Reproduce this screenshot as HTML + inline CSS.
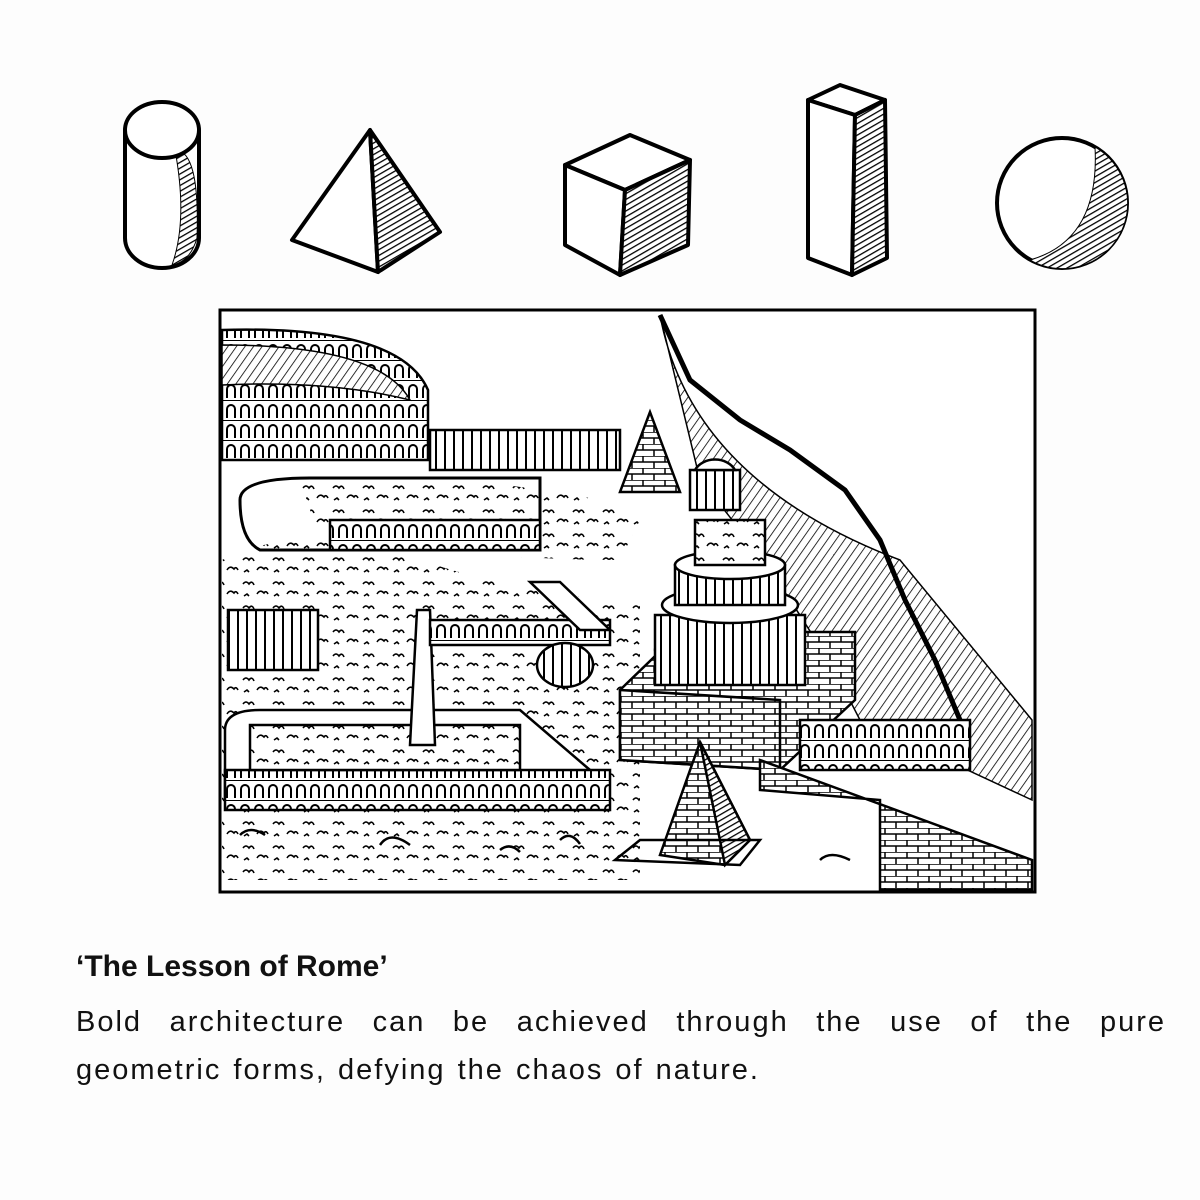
<!DOCTYPE html>
<html><head><meta charset="utf-8">
<style>
html,body{margin:0;padding:0;background:#fff;}
#wrap{position:relative;width:1200px;height:1200px;overflow:hidden;background:#fdfdfd;}
svg{position:absolute;left:0;top:0;}
.t{position:absolute;left:76px;font-family:"Liberation Sans",sans-serif;color:#111;}
#title{top:950px;font-size:30px;font-weight:bold;}
#body{top:998px;width:1090px;font-size:29px;line-height:48px;text-align:justify;text-align-last:left;letter-spacing:2px;word-spacing:2px;}
</style></head>
<body>
<div id="wrap">
<svg width="1200" height="1200" viewBox="0 0 1200 1200">
<defs>
<pattern id="h" width="5" height="5" patternUnits="userSpaceOnUse" patternTransform="rotate(60)"><rect width="5" height="5" fill="#fff"/><line x1="0" y1="0" x2="0" y2="5" stroke="#000" stroke-width="2.6"/></pattern>
<pattern id="h2" width="7" height="7" patternUnits="userSpaceOnUse" patternTransform="rotate(35)"><rect width="7" height="7" fill="#fff"/><line x1="0" y1="0" x2="0" y2="7" stroke="#000" stroke-width="1.6"/></pattern>
<pattern id="br" width="22" height="12" patternUnits="userSpaceOnUse"><rect width="22" height="12" fill="#fff"/><path d="M0 0H22M0 6H22M5 0V6M16 6V12" stroke="#000" stroke-width="1.5" fill="none"/></pattern>
<pattern id="arc" width="14" height="20" patternUnits="userSpaceOnUse"><rect width="14" height="20" fill="#fff"/><path d="M3 18V9a4 4 0 0 1 8 0V18" stroke="#000" stroke-width="2" fill="none"/><line x1="0" y1="0" x2="14" y2="0" stroke="#000" stroke-width="2"/></pattern>
<pattern id="col" width="9" height="10" patternUnits="userSpaceOnUse"><rect width="9" height="10" fill="#fff"/><line x1="4" y1="0" x2="4" y2="10" stroke="#000" stroke-width="2"/></pattern>
<pattern id="bush" width="30" height="24" patternUnits="userSpaceOnUse"><rect width="30" height="24" fill="#fff"/><path d="M3 8q3-4 6 0q3-4 5 1M17 18q3-5 7-1q2-3 4 1M4 20l3-2 2 2" stroke="#000" stroke-width="1.6" fill="none"/></pattern>
</defs>
<g stroke="#000" stroke-width="4" stroke-linejoin="round" fill="#fff">
 <g>
  <path d="M125 130V238A37 30 0 0 0 199 238V130" fill="#fff"/>
  <path d="M175 150Q200 150 197 238Q190 262 172 265Q188 220 175 150Z" fill="url(#h)" stroke-width="1"/>
  <ellipse cx="162" cy="130" rx="37" ry="28"/>
 </g>
 <g>
  <polygon points="370,130 292,240 378,272"/>
  <polygon points="370,130 378,272 440,232" fill="url(#h)"/>
 </g>
 <g>
  <polygon points="565,165 630,135 690,160 625,190"/>
  <polygon points="565,165 625,190 620,275 565,245"/>
  <polygon points="625,190 690,160 688,245 620,275" fill="url(#h)"/>
 </g>
 <g>
  <polygon points="808,100 840,85 885,100 855,115"/>
  <polygon points="808,100 855,115 852,275 808,258"/>
  <polygon points="855,115 885,100 887,258 852,275" fill="url(#h)"/>
 </g>
 <g>
  <circle cx="1062" cy="203" r="65"/>
  <path d="M1095 147A65 65 0 0 1 1030 260Q1100 240 1095 147Z" fill="url(#h)" stroke-width="1"/>
 </g>
</g>
<g stroke="#000" stroke-width="2.5" fill="#fff">
 <rect x="220" y="310" width="815" height="582" fill="#fff" stroke-width="3"/>
 <path d="M222 560Q300 520 420 560T640 600L640 880H222Z" fill="url(#bush)" stroke="none"/>
 <path d="M300 480Q450 470 600 500L640 520L620 560Q500 560 320 540Z" fill="url(#bush)" stroke="none"/>
 <path d="M660 315Q690 480 900 560L1032 720L1032 800L860 720Q800 600 700 480Z" fill="url(#h2)" stroke-width="1.5"/>
 <path d="M660 315L690 380L740 420L790 450L845 490L880 540L905 600L935 660L960 720" fill="none" stroke-width="5"/>
 <g>
  <path d="M222 330Q400 325 428 390V460H222Z" fill="url(#arc)"/>
  <path d="M222 345Q380 345 410 400Q330 380 222 385Z" fill="url(#h2)" stroke-width="1.5"/>
 </g>
 <rect x="430" y="430" width="190" height="40" fill="url(#col)"/>
 <path d="M240 500Q240 478 310 478H540V550H260Q240 540 240 500Z" fill="none" stroke-width="3"/>
 <rect x="330" y="520" width="210" height="30" fill="url(#arc)"/>
 <polygon points="650,412 620,492 680,492" fill="url(#br)"/>
 <rect x="690" y="470" width="50" height="40" fill="url(#col)"/>
 <path d="M695 470A22 18 0 0 1 735 470Z"/>
 <g>
  <polygon points="620,690 680,632 855,632 855,700 780,770 620,760" fill="url(#br)"/>
  <polygon points="620,690 780,700 780,770 620,760" fill="url(#br)"/>
  <ellipse cx="730" cy="650" rx="75" ry="22"/>
  <rect x="655" y="615" width="150" height="70" fill="url(#col)"/>
  <ellipse cx="730" cy="605" rx="68" ry="18"/>
  <rect x="675" y="565" width="110" height="40" fill="url(#col)"/>
  <ellipse cx="730" cy="565" rx="55" ry="14"/>
  <rect x="695" y="520" width="70" height="45" fill="url(#bush)"/>
 </g>
 <g>
  <path d="M225 730Q225 710 260 710H520L590 770V800H225Z" fill="#fff"/>
  <rect x="225" y="770" width="385" height="40" fill="url(#arc)"/>
  <rect x="250" y="725" width="270" height="45" fill="url(#bush)"/>
 </g>
 <polygon points="417,610 430,610 435,745 410,745" fill="#fff"/>
 <rect x="228" y="610" width="90" height="60" fill="url(#col)"/>
 <rect x="430" y="620" width="180" height="25" fill="url(#arc)"/>
 <path d="M530 582H560L610 630H580Z"/>
 <ellipse cx="565" cy="665" rx="28" ry="22" fill="url(#col)"/>
 <rect x="800" y="720" width="170" height="50" fill="url(#arc)"/>
 <path d="M760 760L1032 860V890H880V800L760 790Z" fill="url(#br)"/>
 <polygon points="700,742 660,855 725,865 750,840" fill="url(#br)"/>
 <polygon points="700,742 725,865 750,840" fill="url(#h)"/>
 <path d="M615 860L640 840H760L740 865Z" fill="none"/>
 <path d="M240 835q10-10 25 0M380 845q10-15 30 0M500 850q10-8 20 2M560 840q10-10 20 4M820 860q10-10 30 0" fill="none"/>
</g>
</svg>
<div id="title" class="t">‘The Lesson of Rome’</div>
<div id="body" class="t">Bold architecture can be achieved through the use of the pure geometric forms, defying the chaos of nature.</div>
</div>
</body></html>
